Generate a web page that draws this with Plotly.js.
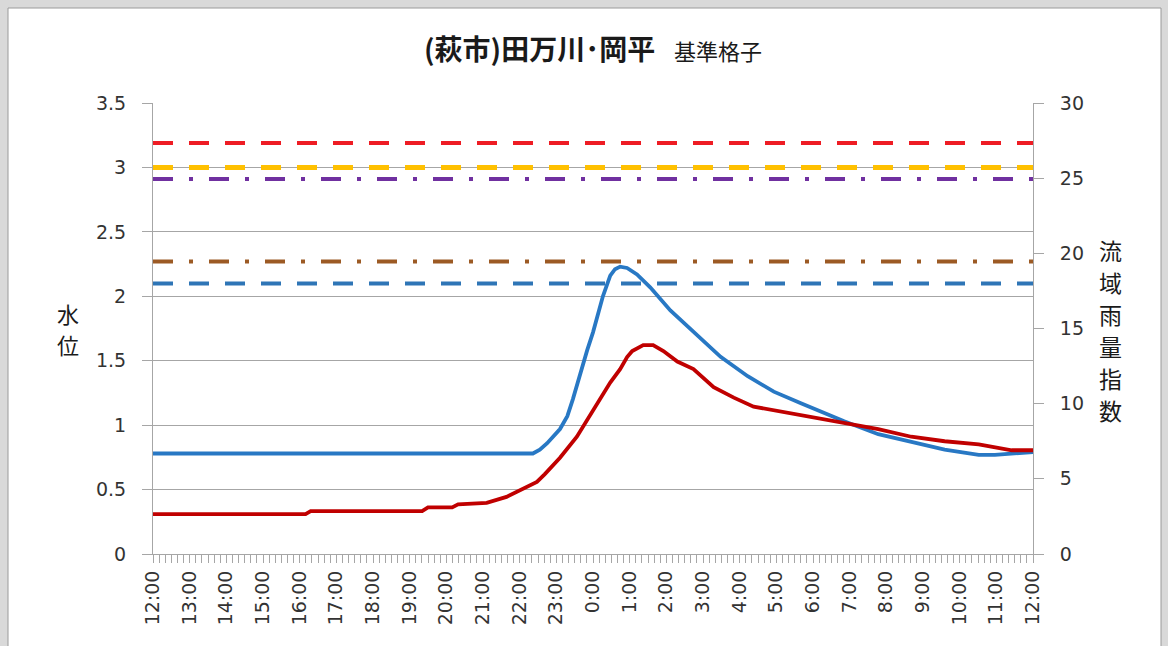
<!DOCTYPE html>
<html>
<head>
<meta charset="utf-8">
<script src="https://cdn.plot.ly/plotly-3.0.1.min.js"></script>
<style>
  html, body { margin: 0; padding: 0; background: #d9d9d9; }
  #chart { width: 1168px; height: 646px; }
</style>
</head>
<body>
<div id="chart"></div>
<script>
// ---- data ----
// hour labels of the x axis (hours elapsed from 12:00)
const tickHours = [0,1,2,3,4,5,6,7,8,9,10,11,12,13,14,15,16,17,18,19,20,21,22,23,24];
const tickLabels = ["12:00","13:00","14:00","15:00","16:00","17:00","18:00","19:00","20:00","21:00","22:00","23:00",
                    "0:00","1:00","2:00","3:00","4:00","5:00","6:00","7:00","8:00","9:00","10:00","11:00","12:00"];

// 水位 (water level, left axis, m)
const levelHours = [0, 10.36, 10.55, 10.75, 11.10, 11.30, 11.45, 11.65, 11.84, 12.0, 12.15, 12.27, 12.47, 12.6, 12.74, 12.93, 13.2, 13.56,
                    14.11, 14.74, 15.48, 16.22, 16.93, 17.67, 18.41, 18.85, 19.78, 20.68, 21.59, 22.52, 22.96, 24];
const levelValues = [0.78, 0.78, 0.81, 0.86, 0.97, 1.07, 1.20, 1.40, 1.58, 1.72, 1.88, 2.00, 2.16, 2.21, 2.23, 2.22, 2.17, 2.07,
                     1.89, 1.72, 1.53, 1.38, 1.26, 1.17, 1.08, 1.03, 0.93, 0.87, 0.81, 0.77, 0.77, 0.79];

// 流域雨量指数 (basin rainfall index, right axis)
const indexHours = [0, 4.16, 4.30, 7.34, 7.50, 8.16, 8.32, 9.1, 9.64, 10.08, 10.47, 10.68, 11.10, 11.56, 12.0,
                    12.47, 12.74, 12.93, 13.07, 13.37, 13.64, 13.92, 14.3, 14.74, 15.29, 15.84, 16.38, 17.04,
                    17.67, 18.41, 18.85, 19.78, 20.68, 21.59, 22.52, 23.42, 24];
const indexValues = [2.65, 2.65, 2.85, 2.85, 3.1, 3.1, 3.3, 3.4, 3.8, 4.3, 4.8, 5.3, 6.4, 7.8, 9.6,
                     11.4, 12.3, 13.1, 13.5, 13.9, 13.9, 13.5, 12.8, 12.3, 11.1, 10.4, 9.8, 9.5,
                     9.2, 8.9, 8.7, 8.3, 7.8, 7.5, 7.3, 6.9, 6.9];

// reference levels (left axis units)
const thresholdValues = [3.19, 3.0, 2.91, 2.27, 2.1];
const thresholdSpan = [0, 24];

// axis title texts
const leftTitle = "水位";
const rightTitle = "流域雨量指数";

// ---- styles ----
const thresholdStyles = [
  {color: "#ee1c24", dash: "20px,16px", width: 4},
  {color: "#ffc000", dash: "20px,16px", width: 5},
  {color: "#7030a0", dash: "20px,16px,4px,16px", width: 4},
  {color: "#9c5a24", dash: "20px,16px,4px,16px", width: 4},
  {color: "#2e75b6", dash: "20px,16px", width: 4}
];

const traces = thresholdValues.map((v, i) => ({
  type: "scatter", mode: "lines",
  x: thresholdSpan, y: thresholdSpan.map(() => v),
  line: thresholdStyles[i], hoverinfo: "skip", showlegend: false, xaxis: "x", yaxis: "y"
}));

traces.push({
  type: "scatter", mode: "lines", name: "水位",
  x: levelHours, y: levelValues,
  line: {color: "#2878c4", width: 3.8},
  showlegend: false, xaxis: "x", yaxis: "y"
});
traces.push({
  type: "scatter", mode: "lines", name: "流域雨量指数",
  x: indexHours, y: indexValues,
  line: {color: "#c00000", width: 3.8},
  showlegend: false, xaxis: "x", yaxis: "y2"
});

const axisGray = "#a6a6a6";
const tickFont = {family: "DejaVu Sans, Liberation Sans, sans-serif", size: 19, color: "#333333"};
const cjk = "Noto Sans CJK JP, sans-serif";

// plot area in pixels: x 153..1033, y 103..554
const pxX = px => (px - 153) / 880;
const pxY = py => (554 - py) / 451;

const annotations = [];
leftTitle.split("").forEach((ch, i) => annotations.push({
  text: ch, xref: "paper", yref: "paper", x: pxX(68), y: pxY(313 + i * 31),
  xanchor: "center", yanchor: "middle", showarrow: false,
  font: {family: cjk, size: 22, color: "#1a1a1a"}
}));
rightTitle.split("").forEach((ch, i) => annotations.push({
  text: ch, xref: "paper", yref: "paper", x: pxX(1110), y: pxY(250 + i * 32),
  xanchor: "center", yanchor: "middle", showarrow: false,
  font: {family: cjk, size: 23, color: "#1a1a1a"}
}));

const layout = {
  width: 1168, height: 646, autosize: false,
  margin: {l: 153, r: 135, t: 103, b: 92, pad: 0},
  paper_bgcolor: "#d9d9d9",
  plot_bgcolor: "#ffffff",
  title: {
    text: "<b>(萩市)田万川･岡平</b>   <span style=\"font-size:22px\">基準格子</span>",
    font: {family: cjk, size: 28, color: "#1a1a1a"},
    x: 0.5, xref: "paper", xanchor: "center",
    y: 0.922, yref: "container", yanchor: "middle"
  },
  xaxis: {
    range: [0, 24], tickmode: "array", tickvals: tickHours, ticktext: tickLabels,
    tickangle: -90, ticks: "outside", ticklen: 8, tickcolor: axisGray, tickwidth: 1,
    showline: true, linecolor: axisGray, linewidth: 1, showgrid: false, zeroline: false,
    tickfont: tickFont,
    minor: {tickmode: "linear", tick0: 0, dtick: 1 / 6, ticks: "outside", ticklen: 8, tickcolor: axisGray, showgrid: false}
  },
  yaxis: {
    range: [0, 3.5], tickmode: "linear", tick0: 0, dtick: 0.5,
    showgrid: true, gridcolor: axisGray, gridwidth: 1,
    showline: true, linecolor: axisGray, linewidth: 1, zeroline: false,
    ticks: "outside", ticklen: 10, tickcolor: axisGray,
    ticklabelstandoff: 12,
    tickfont: tickFont
  },
  yaxis2: {
    range: [0, 30], tickmode: "linear", tick0: 0, dtick: 5,
    overlaying: "y", side: "right", showgrid: false, zeroline: false,
    showline: true, linecolor: axisGray, linewidth: 1,
    ticks: "outside", ticklen: 10, tickcolor: axisGray,
    ticklabelstandoff: 12,
    tickfont: tickFont
  },
  shapes: [{
    type: "rect", xref: "paper", yref: "paper", layer: "below",
    x0: pxX(8), x1: pxX(1161), y0: -0.25, y1: pxY(8),
    fillcolor: "#ffffff", line: {color: "#9a9a9a", width: 1}
  }],
  annotations: annotations,
  showlegend: false
};

Plotly.newPlot("chart", traces, layout, {displayModeBar: false, staticPlot: true});
</script>
</body>
</html>
